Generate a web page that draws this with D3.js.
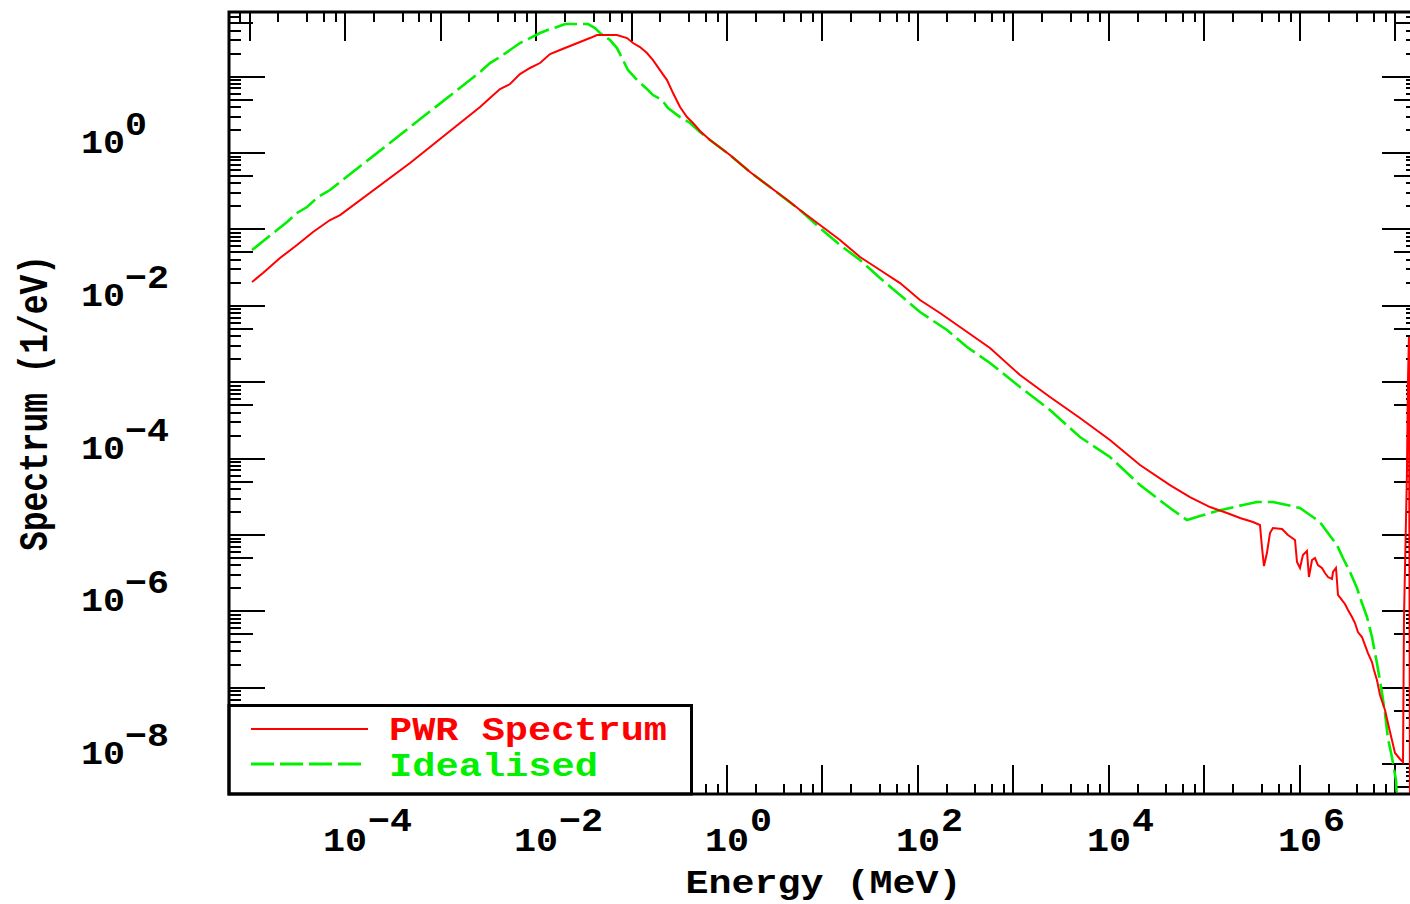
<!DOCTYPE html>
<html>
<head>
<meta charset="utf-8">
<script src="https://cdn.jsdelivr.net/npm/d3@7"></script>
<style>
  body { margin: 0; background: #fff; }
  svg { display: block; }
  text { font-family: "Liberation Mono", "DejaVu Sans Mono", monospace; font-weight: bold; }
</style>
</head>
<body>
<div id="chart"></div>
<script>
// values, as log10 of energy and log10 of spectrum
const pwrLogE = [-4.974, -4.859, -4.681, -4.503, -4.335, -4.157, -4.052, -3.319, -2.586, -2.482,
  -2.377, -2.272, -2.168, -2.063, -1.958, -1.853, -1.749, -1.644, -1.539, -1.435,
  -1.361, -1.257, -1.152, -1.047, -0.984, -0.911, -0.838, -0.775, -0.702, -0.628,
  -0.565, -0.492, -0.419, -0.356, -0.283, -0.178, 0.031, 0.241, 0.450, 0.660,
  0.764, 0.974, 1.183, 1.393, 1.602, 1.812, 2.021, 2.230, 2.440, 2.754,
  3.068, 3.382, 3.696, 4.010, 4.325, 4.639, 4.848, 5.058, 5.236, 5.372,
  5.508, 5.581, 5.602, 5.623, 5.654, 5.686, 5.717, 5.812, 5.874, 5.948,
  5.969, 6.000, 6.031, 6.073, 6.094, 6.126, 6.157, 6.188, 6.230, 6.262,
  6.293, 6.335, 6.346, 6.377, 6.387, 6.398, 6.440, 6.471, 6.503, 6.545,
  6.576, 6.607, 6.649, 6.681, 6.712, 6.754, 6.775, 6.806, 6.838, 6.890,
  6.921, 6.963, 6.995, 7.047, 7.079, 7.089, 7.120, 7.131, 7.141, 7.152];
const pwrLogS = [-1.688, -1.571, -1.374, -1.204, -1.034, -0.877, -0.812, -0.131, 0.602, 0.720,
  0.838, 0.903, 1.034, 1.113, 1.178, 1.296, 1.348, 1.401, 1.453, 1.505,
  1.545, 1.545, 1.545, 1.505, 1.440, 1.387, 1.309, 1.217, 1.086, 0.955,
  0.785, 0.602, 0.471, 0.393, 0.288, 0.170, -0.026, -0.249, -0.445, -0.641,
  -0.746, -0.942, -1.139, -1.361, -1.531, -1.702, -1.924, -2.094, -2.277, -2.552,
  -2.906, -3.194, -3.469, -3.757, -4.084, -4.346, -4.503, -4.634, -4.712, -4.777,
  -4.830, -4.869, -5.157, -5.406, -5.236, -4.974, -4.908, -4.921, -5.000, -5.065,
  -5.353, -5.432, -5.262, -5.209, -5.550, -5.327, -5.301, -5.393, -5.432, -5.497,
  -5.550, -5.576, -5.484, -5.432, -5.589, -5.785, -5.851, -5.903, -5.982, -6.073,
  -6.152, -6.270, -6.335, -6.440, -6.545, -6.662, -6.767, -6.898, -7.094, -7.291,
  -7.461, -7.683, -7.853, -7.932, -7.971, -6.113, -4.200, -2.971, -2.408, -8.470];

const idealLogE = [-4.974, -4.817, -4.712, -4.607, -4.503, -4.398, -4.283, -4.157, -4.052, -3.319,
  -2.586, -2.482, -2.377, -2.272, -2.168, -2.063, -1.958, -1.853, -1.780, -1.696,
  -1.455, -1.382, -1.330, -1.225, -1.152, -1.089, -1.037, -0.942, -0.838, -0.775,
  -0.681, -0.618, -0.492, -0.387, -0.283, -0.178, 0.031, 0.241, 0.450, 0.764,
  0.974, 1.183, 1.393, 1.602, 1.812, 2.021, 2.304, 2.513, 2.754, 3.068,
  3.382, 3.696, 4.010, 4.325, 4.639, 4.817, 4.953, 5.131, 5.267, 5.403,
  5.550, 5.717, 5.864, 6.000, 6.105, 6.209, 6.293, 6.387, 6.450, 6.524,
  6.597, 6.649, 6.702, 6.754, 6.806, 6.859, 6.890, 6.921, 6.963, 7.005, 7.016];
const idealLogS = [-1.270, -1.113, -1.008, -0.903, -0.785, -0.707, -0.576, -0.484, -0.380, 0.340,
  1.060, 1.178, 1.257, 1.348, 1.440, 1.505, 1.571, 1.623, 1.649, 1.688,
  1.688, 1.636, 1.571, 1.479, 1.374, 1.217, 1.086, 0.955, 0.838, 0.759,
  0.694, 0.589, 0.471, 0.393, 0.275, 0.170, -0.026, -0.249, -0.445, -0.746,
  -0.982, -1.204, -1.401, -1.636, -1.859, -2.081, -2.317, -2.539, -2.749, -3.063,
  -3.364, -3.717, -3.979, -4.346, -4.647, -4.804, -4.751, -4.686, -4.647, -4.607,
  -4.568, -4.568, -4.607, -4.647, -4.738, -4.830, -4.974, -5.131, -5.301, -5.484,
  -5.694, -5.890, -6.073, -6.335, -6.675, -7.068, -7.330, -7.657, -7.906, -8.207, -8.469];

const xLabelExps = [-4, -2, 0, 2, 4, 6];
const yLabelExps = [0, -2, -4, -6, -8];
const xMinorMult = [2, 4, 6, 8];
const yMinorMult = [2, 3, 4, 5, 6, 7, 8, 9];
const seriesNames = ["PWR Spectrum", "Idealised"];
const xTitle = "Energy (MeV)";
const yTitle = "Spectrum (1/eV)";

const W = 1410, H = 904;
const frame = { left: 229, right: 1418, top: 12, bottom: 794 };

const svg = d3.select('#chart').append('svg')
  .attr('width', W).attr('height', H);
svg.append('rect').attr('width', W).attr('height', H).attr('fill', '#fff');

const x = d3.scaleLog()
  .domain([Math.pow(10, -5.215), Math.pow(10, 7.236)])
  .range([frame.left, frame.right]);
const y = d3.scaleLog()
  .domain([Math.pow(10, -8.39), Math.pow(10, 1.846)])
  .range([frame.bottom, frame.top]);

const pwr = pwrLogE.map((e, i) => ({ e: Math.pow(10, e), s: Math.pow(10, pwrLogS[i]) }));
const ideal = idealLogE.map((e, i) => ({ e: Math.pow(10, e), s: Math.pow(10, idealLogS[i]) }));

// tick lists: decades get long ticks, the rest short ones
function logTicks(scale, mults) {
  const [d0, d1] = scale.domain();
  const out = [];
  for (let k = Math.floor(Math.log10(d0)); k <= Math.ceil(Math.log10(d1)); k++) {
    const dec = Math.pow(10, k);
    if (dec >= d0 && dec <= d1) out.push({ v: dec, kind: 'major' });
    mults.forEach(m => {
      const v = m * dec;
      if (v >= d0 && v <= d1) out.push({ v: v, kind: m == 5 ? 'mid' : 'minor' });
    });
  }
  return out;
}

const xLen = { major: 29, mid: 10, minor: 10 };
const yLen = { major: 36, mid: 24, minor: 12 };

const ticks = svg.append('g')
  .attr('stroke', '#000').attr('stroke-width', 2).attr('shape-rendering', 'crispEdges');

const xt = logTicks(x, xMinorMult);
ticks.selectAll('.xb').data(xt).join('line').attr('class', 'xb')
  .attr('x1', d => Math.round(x(d.v))).attr('x2', d => Math.round(x(d.v)))
  .attr('y1', frame.bottom).attr('y2', d => frame.bottom - xLen[d.kind]);
ticks.selectAll('.xt').data(xt).join('line').attr('class', 'xt')
  .attr('x1', d => Math.round(x(d.v))).attr('x2', d => Math.round(x(d.v)))
  .attr('y1', frame.top).attr('y2', d => frame.top + xLen[d.kind]);

const yt = logTicks(y, yMinorMult);
ticks.selectAll('.yl').data(yt).join('line').attr('class', 'yl')
  .attr('y1', d => Math.round(y(d.v))).attr('y2', d => Math.round(y(d.v)))
  .attr('x1', frame.left).attr('x2', d => frame.left + yLen[d.kind]);
ticks.selectAll('.yr').data(yt).join('line').attr('class', 'yr')
  .attr('y1', d => Math.round(y(d.v))).attr('y2', d => Math.round(y(d.v)))
  .attr('x1', frame.right).attr('x2', d => frame.right - yLen[d.kind]);

// curves
svg.append('clipPath').attr('id', 'plotclip').append('rect')
  .attr('x', frame.left).attr('y', frame.top)
  .attr('width', frame.right - frame.left).attr('height', frame.bottom - frame.top);

const line = d3.line().x(d => x(d.e)).y(d => y(d.s));
const curves = svg.append('g').attr('clip-path', 'url(#plotclip)');
curves.append('path').datum(ideal)
  .attr('fill', 'none').attr('stroke', '#00f000').attr('stroke-width', 2.6)
  .attr('stroke-dasharray', '23,6').attr('d', line);
curves.append('path').datum(pwr)
  .attr('fill', 'none').attr('stroke', '#ff0000').attr('stroke-width', 2)
  .attr('d', line);

// legend
const lg = svg.append('g');
lg.append('rect').attr('x', frame.left).attr('y', 705.5)
  .attr('width', 691.5 - frame.left).attr('height', frame.bottom - 705.5)
  .attr('fill', '#fff').attr('stroke', '#000').attr('stroke-width', 3);
lg.append('line').attr('x1', 251).attr('x2', 368).attr('y1', 729).attr('y2', 729)
  .attr('stroke', '#ff0000').attr('stroke-width', 2);
lg.append('line').attr('x1', 251).attr('x2', 364).attr('y1', 764).attr('y2', 764)
  .attr('stroke', '#00f000').attr('stroke-width', 3).attr('stroke-dasharray', '23,6');
lg.append('text').attr('x', 389).attr('y', 740).attr('fill', '#ff0000')
  .attr('font-size', 33).attr('textLength', 278).attr('lengthAdjust', 'spacingAndGlyphs')
  .text(seriesNames[0]);
lg.append('text').attr('x', 389).attr('y', 776).attr('fill', '#00f000')
  .attr('font-size', 33).attr('textLength', 209).attr('lengthAdjust', 'spacingAndGlyphs')
  .text(seriesNames[1]);

// frame
svg.append('rect').attr('x', frame.left).attr('y', frame.top)
  .attr('width', frame.right - frame.left).attr('height', frame.bottom - frame.top)
  .attr('fill', 'none').attr('stroke', '#000').attr('stroke-width', 3);

// tick labels
const expText = k => (k < 0 ? '\u2212' : '') + Math.abs(k);
const labels = svg.append('g').attr('fill', '#000').attr('font-size', 33);
xLabelExps.forEach(k => {
  const px = x(Math.pow(10, k));
  labels.append('text').attr('x', px).attr('y', 851).attr('text-anchor', 'middle')
    .attr('textLength', 44).attr('lengthAdjust', 'spacingAndGlyphs').text('10');
  const s = expText(k);
  labels.append('text').attr('x', px + 23).attr('y', 831)
    .attr('textLength', 22 * s.length).attr('lengthAdjust', 'spacingAndGlyphs').text(s);
});
yLabelExps.forEach(k => {
  const py = y(Math.pow(10, k));
  labels.append('text').attr('x', 81).attr('y', py).attr('textLength', 44)
    .attr('lengthAdjust', 'spacingAndGlyphs').text('10');
  const s = expText(k);
  labels.append('text').attr('x', 125).attr('y', py - 18)
    .attr('textLength', 22 * s.length).attr('lengthAdjust', 'spacingAndGlyphs').text(s);
});

// axis titles
svg.append('text').attr('x', (frame.left + frame.right) / 2).attr('y', 893)
  .attr('text-anchor', 'middle').attr('font-size', 33)
  .attr('textLength', 276).attr('lengthAdjust', 'spacingAndGlyphs').text(xTitle);
svg.append('text')
  .attr('transform', `translate(47, ${(frame.top + frame.bottom) / 2}) rotate(-90)`)
  .attr('text-anchor', 'middle').attr('font-size', 40)
  .attr('textLength', 296).attr('lengthAdjust', 'spacingAndGlyphs').text(yTitle);
</script>
</body>
</html>
